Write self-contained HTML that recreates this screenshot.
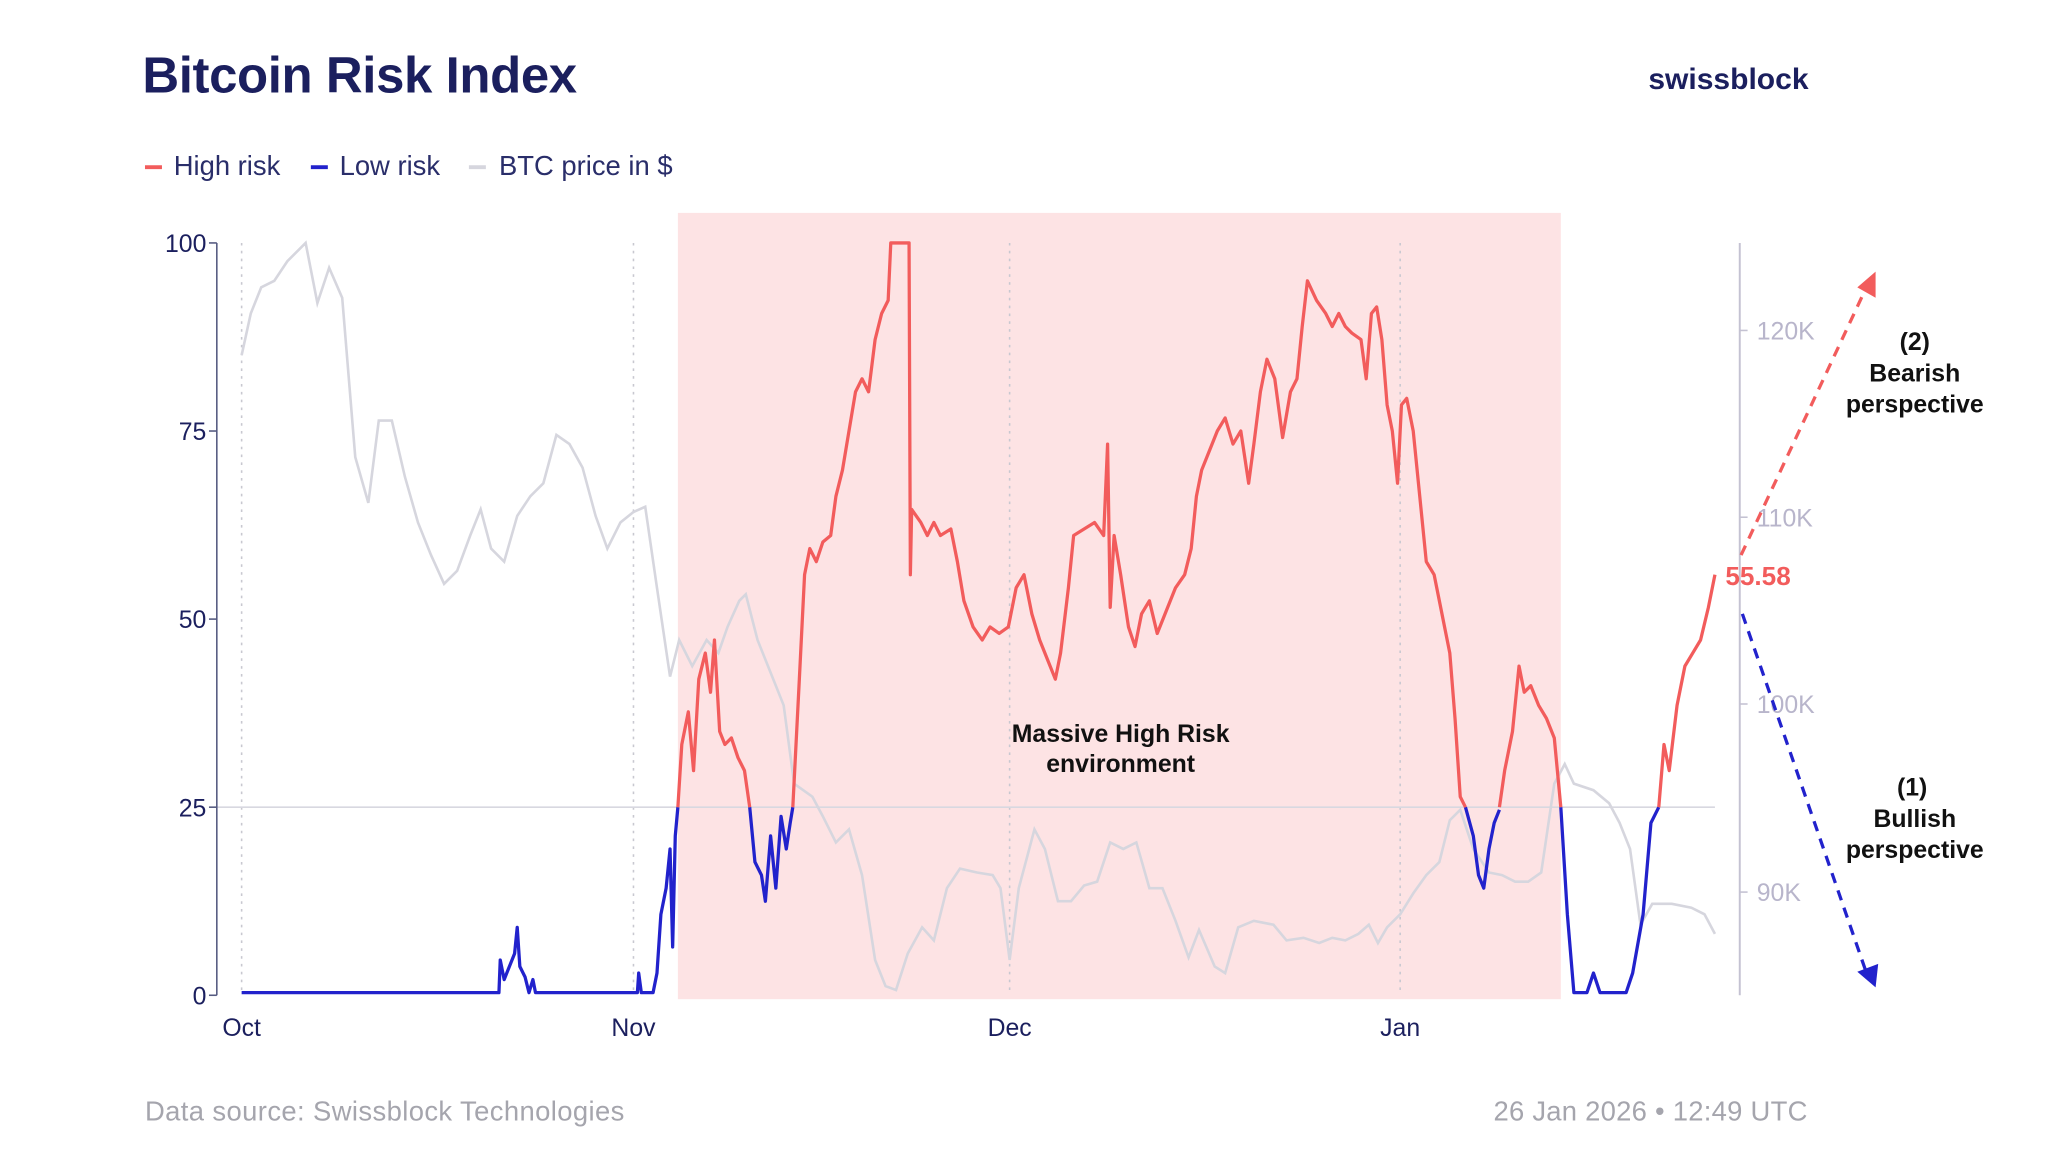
<!DOCTYPE html>
<html><head><meta charset="utf-8"><style>
html,body{margin:0;padding:0;background:#fff;}
svg{display:block;}
text{font-family:"Liberation Sans",sans-serif;}
</style></head><body>
<svg width="2048" height="1152" viewBox="0 0 1568 882" xmlns="http://www.w3.org/2000/svg">
<rect width="1568" height="882" fill="#fff"/>
<text x="109" y="71" font-size="39" font-weight="bold" fill="#1b1f5e" letter-spacing="-0.3">Bitcoin Risk Index</text>
<text x="1262" y="68" font-size="23" font-weight="bold" fill="#1b1f5e">swissblock</text>
<g font-size="21" fill="#2a2e6a">
<line x1="111" y1="128" x2="124" y2="128" stroke="#f25c5c" stroke-width="3"/><text x="133" y="134">High risk</text>
<line x1="238" y1="128" x2="251" y2="128" stroke="#2222cc" stroke-width="3"/><text x="260" y="134">Low risk</text>
<line x1="359" y1="128" x2="372" y2="128" stroke="#d6d6de" stroke-width="3"/><text x="382" y="134">BTC price in $</text>
</g>
<rect x="519" y="163" width="676" height="602" fill="#fde3e4"/>
<g stroke="#c8c8d0" stroke-width="1.2" stroke-dasharray="2,4">
<line x1="185" y1="186" x2="185" y2="762"/><line x1="485" y1="186" x2="485" y2="762"/>
<line x1="773" y1="186" x2="773" y2="762"/><line x1="1072" y1="186" x2="1072" y2="762"/>
</g>
<line x1="166" y1="618" x2="1313" y2="618" stroke="#d8d8e0" stroke-width="1.2"/>
<line x1="166" y1="186" x2="166" y2="762" stroke="#555a80" stroke-width="1.2"/>
<g stroke="#555a80" stroke-width="1.2"><line x1="160" y1="186" x2="166" y2="186"/><line x1="160" y1="330" x2="166" y2="330"/><line x1="160" y1="474" x2="166" y2="474"/><line x1="160" y1="618" x2="166" y2="618"/><line x1="160" y1="762" x2="166" y2="762"/></g>
<g font-size="19" fill="#1b1f5e" text-anchor="end"><text x="158" y="193">100</text><text x="158" y="337">75</text><text x="158" y="481">50</text><text x="158" y="625">25</text><text x="158" y="769">0</text></g>
<g font-size="19" fill="#1b1f5e" text-anchor="middle"><text x="185" y="793">Oct</text><text x="485" y="793">Nov</text><text x="773" y="793">Dec</text><text x="1072" y="793">Jan</text></g>
<line x1="1332" y1="186" x2="1332" y2="762" stroke="#c4c2d2" stroke-width="1.5"/>
<g stroke="#c4c2d2" stroke-width="1.2"><line x1="1332" y1="253" x2="1338" y2="253"/><line x1="1332" y1="396" x2="1338" y2="396"/><line x1="1332" y1="539" x2="1338" y2="539"/><line x1="1332" y1="683" x2="1338" y2="683"/></g>
<g font-size="19" fill="#b8b5cb"><text x="1345" y="260">120K</text><text x="1345" y="403">110K</text><text x="1345" y="546">100K</text><text x="1345" y="690">90K</text></g>
<polyline fill="none" stroke="#d6d6de" stroke-width="2" points="185,272 192,240 200,220 210,215 220,200 234,186 243,232 252,205 262,228 272,350 282,385 290,322 300,322 310,365 320,400 330,425 340,447 350,437 360,410 368,390 376,420 386,430 396,395 406,380 416,370 426,333 436,340 446,358 456,395 465,420 475,400 485,392 494,388 503,450 513,518 520,490 530,510 541,490 550,500 557,480 566,460 571,455 580,490 590,515 600,540 608,600 615,605 622,610 630,625 640,645 650,635 660,670 670,735 678,755 686,758 695,730 706,710 715,720 725,680 735,665 748,668 760,670 766,680 773,735 780,680 792,635 800,650 810,690 820,690 830,678 840,675 850,645 860,650 870,645 880,680 890,680 900,705 910,733 918,712 930,740 938,745 948,710 960,705 975,708 985,720 998,718 1010,722 1020,718 1030,720 1040,715 1048,708 1055,722 1062,710 1072,700 1082,684 1092,670 1102,660 1110,628 1118,620 1128,650 1140,668 1150,670 1160,675 1170,675 1180,668 1190,600 1198,585 1205,600 1220,605 1232,615 1240,630 1248,650 1256,708 1265,692 1280,692 1295,695 1305,700 1313,715"/>
<g fill="none" stroke="#2222cc" stroke-width="2.5" stroke-linejoin="round">
<polyline points="185,760 382,760 383,735 386,750 390,740 394,730 396,710 398,740 402,748 405,760 408,750 410,760 488,760 489,745 491,760 500,760 503,745 506,700 510,680 513,650 515,725 517,640 519,618"/>
<polyline points="574,618 578,660 583,670 586,690 590,640 594,680 598,625 602,650 605,630 607,618"/>
<polyline points="1122,618 1128,640 1132,670 1136,680 1140,650 1144,630 1148,620"/>
<polyline points="1195,618 1200,700 1205,760 1215,760 1220,745 1225,760 1245,760 1250,745 1258,700 1264,630 1270,618"/>
</g>
<g fill="none" stroke="#f25c5c" stroke-width="2.5" stroke-linejoin="round">
<polyline points="519,618 522,570 527,545 531,590 535,520 540,500 544,530 547,490 551,560 555,570 560,565 565,580 570,590 574,618"/>
<polyline points="607,618 612,520 616,440 620,420 625,430 630,415 636,410 640,380 645,360 650,330 655,300 660,290 665,300 670,260 675,240 680,230 682,186 696,186 697,440 698,390 705,400 710,410 715,400 720,410 728,405 733,430 738,460 745,480 752,490 758,480 765,485 772,480 778,450 784,440 790,470 796,490 802,505 808,520 812,500 818,450 822,410 830,405 838,400 845,410 848,340 850,465 853,410 858,440 864,480 869,495 874,470 880,460 886,485 892,470 900,450 907,440 912,420 916,380 920,360 926,345 932,330 938,320 944,340 950,330 956,370 960,340 965,300 970,275 976,290 982,335 988,300 993,290 997,250 1001,215 1008,230 1015,240 1020,250 1025,240 1030,250 1035,255 1042,260 1046,290 1050,240 1054,235 1058,260 1062,310 1066,330 1070,370 1073,310 1077,305 1082,330 1087,380 1092,430 1098,440 1104,470 1110,500 1114,550 1118,610 1122,618"/>
<polyline points="1148,618 1152,590 1158,560 1163,510 1167,530 1172,525 1178,540 1184,550 1190,565 1195,618"/>
<polyline points="1270,618 1274,570 1278,590 1284,540 1290,510 1296,500 1302,490 1308,465 1313,440"/>
</g>
<text x="1321" y="448" font-size="20" font-weight="bold" fill="#f25c5c">55.58</text>
<line x1="1333" y1="425" x2="1428" y2="222" stroke="#f25c5c" stroke-width="2.5" stroke-dasharray="8,6"/>
<polygon points="1436,208 1436,228 1422,220" fill="#f25c5c"/>
<line x1="1334" y1="470" x2="1428" y2="742" stroke="#2222cc" stroke-width="2.5" stroke-dasharray="8,6"/>
<polygon points="1436,756 1422,744 1438,738" fill="#2222cc"/>
<g font-size="19" font-weight="bold" fill="#111" text-anchor="middle">
<text x="1466" y="268">(2)</text><text x="1466" y="292">Bearish</text><text x="1466" y="316">perspective</text>
<text x="1464" y="609">(1)</text><text x="1466" y="633">Bullish</text><text x="1466" y="657">perspective</text>
<text x="858" y="568">Massive High Risk</text><text x="858" y="591">environment</text>
</g>
<text x="111" y="858" font-size="21" fill="#a5a5ad" letter-spacing="0.3">Data source: Swissblock Technologies</text>
<text x="1384" y="858" font-size="21" fill="#a5a5ad" text-anchor="end" letter-spacing="0.2">26 Jan 2026 • 12:49 UTC</text>
</svg>
</body></html>
